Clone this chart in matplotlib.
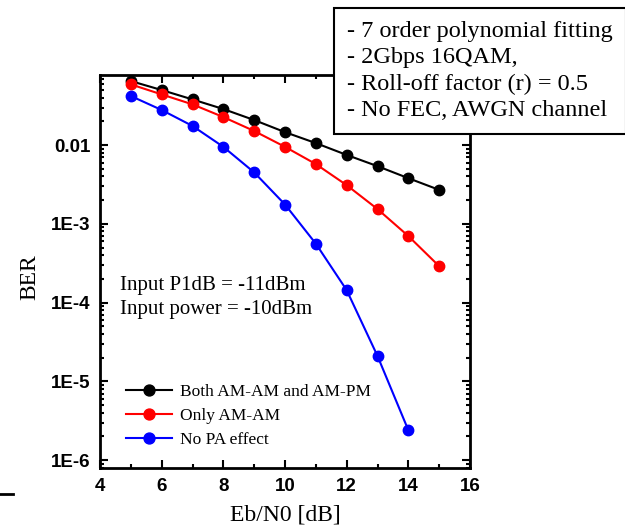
import numpy as np
import matplotlib.pyplot as plt
from matplotlib.ticker import FixedLocator, LogLocator, NullFormatter
from matplotlib.lines import Line2D

ebn0 = [5, 6, 7, 8, 9, 10, 11, 12, 13, 14, 15]
ber_both = [0.065, 0.050, 0.038, 0.0287, 0.0208, 0.0146, 0.0106, 0.0075, 0.0054, 0.0038, 0.0027]
ber_amam = [0.059, 0.044, 0.0329, 0.0227, 0.0151, 0.0095, 0.00574, 0.0031, 0.00154, 7.0e-4, 2.9e-4]
ebn0_nopa = [5, 6, 7, 8, 9, 10, 11, 12, 13, 14]
ber_nopa = [0.042, 0.0279, 0.0175, 0.0095, 0.0045, 0.00176, 5.6e-4, 1.44e-4, 2.1e-5, 2.4e-6]

labels = ['Both AM-AM and AM-PM', 'Only AM-AM', 'No PA effect']
yticks = [1e-6, 1e-5, 1e-4, 1e-3, 1e-2]
ytick_labels = ['1E-6', '1E-5', '1E-4', '1E-3', '0.01']
info_lines = ['- 7 order polynomial fitting', '- 2Gbps 16QAM,',
              '- Roll-off factor (r) = 0.5', '- No FEC, AWGN channel']

serif = 'Liberation Serif'
sans = 'Liberation Sans'

fig = plt.figure(figsize=(6.25, 5.25), dpi=100)
ax = fig.add_axes([100 / 625, 1 - 468 / 525, 370 / 625, 393 / 525])

ax.plot(ebn0, ber_both, '-o', color='black', lw=1.5, ms=7.5, label=labels[0])
ax.plot(ebn0, ber_amam, '-o', color='red', lw=1.5, ms=7.5, label=labels[1])
ax.plot(ebn0_nopa, ber_nopa, '-o', color='blue', lw=1.5, ms=7.5, label=labels[2])

ax.set_yscale('log')
ax.set_xlim(4, 16)
ax.set_ylim(10 ** -6.1, 10 ** -1.11)
ax.set_xticks([4, 6, 8, 10, 12, 14, 16])
ax.xaxis.set_minor_locator(FixedLocator([5, 7, 9, 11, 13, 15]))
ax.yaxis.set_major_locator(FixedLocator(yticks))
ax.set_yticklabels(ytick_labels)
ax.yaxis.set_minor_locator(LogLocator(base=10, subs=np.arange(2, 10), numticks=20))
ax.yaxis.set_minor_formatter(NullFormatter())

for lab in ax.get_xticklabels() + ax.get_yticklabels():
    lab.set_fontfamily(sans)
    lab.set_fontweight('bold')
    lab.set_fontsize(13.5)

ax.tick_params(which='both', direction='in', top=True, right=True, width=1.5)
ax.tick_params(which='major', length=6, pad=7)
ax.tick_params(which='minor', length=3)
for s in ax.spines.values():
    s.set_linewidth(2)

ax.set_xlabel('Eb/N0 [dB]', fontfamily=serif, fontsize=17, labelpad=7)
ax.set_ylabel('BER', fontfamily=serif, fontsize=17)
ax.yaxis.set_label_coords(-0.162, 0.485)

ax.text(0.055, 0.434, 'Input P1dB = -11dBm\nInput power = -10dBm', transform=ax.transAxes,
        fontfamily=serif, fontsize=15, va='center', linespacing=1.35)

leg = ax.legend(loc='lower left', bbox_to_anchor=(0.027, 0.012), frameon=False,
                prop={'family': serif, 'size': 12.5}, handlelength=2.7,
                labelspacing=0.45, markerscale=1.05, handletextpad=0.45)

fig.text(347 / 625, 1 - 71 / 525, '\n'.join(info_lines), fontfamily=serif, fontsize=17.5,
         va='center', ha='left', linespacing=1.32,
         bbox=dict(boxstyle='square,pad=0.55', fc='white', ec='black', lw=1.5))

fig.add_artist(Line2D([0, 13 / 625], [1 - 494 / 525, 1 - 494 / 525], color='black', lw=2))

fig.savefig('out.png', dpi=100)
